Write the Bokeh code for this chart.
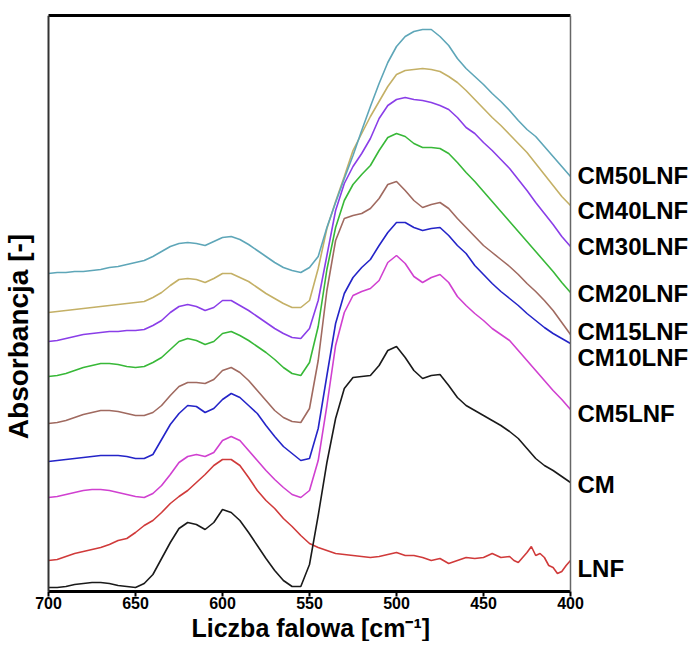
import math
from bokeh.plotting import figure
from bokeh.models import Range1d, FixedTicker, LinearAxis, Label, Span, Title
from bokeh.embed import file_html
from bokeh.resources import INLINE

# ---------------- data (absorbance, arbitrary units, offset spectra) ----------------
wavenumber = [700, 695, 690, 685, 680, 675, 670, 665, 660, 655,
              650, 645, 640, 635, 630, 625, 620, 615, 610, 605,
              600, 595, 590, 585, 580, 575, 570, 565, 560, 555,
              550, 545, 540, 535, 530, 525, 520, 515, 510, 505,
              500, 495, 490, 485, 480, 475, 470, 465, 460, 455,
              450, 445, 440, 435, 430, 425, 420, 415, 410, 405, 400]

wavenumber_lnf = [700, 695, 690, 685, 680, 675, 670, 665, 660, 655,
                  650, 645, 640, 635, 630, 625, 620, 615, 610, 605,
                  600, 595, 590, 585, 580, 575, 570, 565, 560, 555,
                  550, 545, 540, 535, 530, 525, 520, 515, 510, 505,
                  500, 495, 490, 485, 480, 475, 470, 465, 460, 455,
                  450, 445, 440, 435, 432.5, 430, 427.5, 425, 422.5, 420,
                  417.5, 415, 412.5, 410, 407.5, 405, 402.5, 400]

lnf = [0.31, 0.32, 0.35, 0.38, 0.40, 0.42, 0.44, 0.47, 0.51, 0.53,
       0.59, 0.66, 0.71, 0.79, 0.88, 0.95, 1.01, 1.09, 1.17, 1.26,
       1.32, 1.32, 1.26, 1.14, 1.01, 0.91, 0.83, 0.73, 0.65, 0.56,
       0.48, 0.44, 0.41, 0.38, 0.37, 0.36, 0.35, 0.34, 0.35, 0.37,
       0.39, 0.36, 0.36, 0.34, 0.31, 0.33, 0.28, 0.31, 0.34, 0.33,
       0.34, 0.38, 0.34, 0.35, 0.31, 0.29, 0.34, 0.39, 0.45, 0.36,
       0.38, 0.34, 0.26, 0.24, 0.18, 0.20, 0.26, 0.31]

cm = [0.04, 0.04, 0.05, 0.07, 0.08, 0.09, 0.09, 0.08, 0.06, 0.05,
      0.04, 0.08, 0.17, 0.33, 0.49, 0.63, 0.69, 0.67, 0.62, 0.69,
      0.82, 0.79, 0.71, 0.59, 0.46, 0.33, 0.21, 0.11, 0.05, 0.05,
      0.27, 0.76, 1.29, 1.73, 2.03, 2.14, 2.15, 2.16, 2.26, 2.41,
      2.45, 2.34, 2.21, 2.13, 2.16, 2.17, 2.06, 1.94, 1.86, 1.81,
      1.76, 1.71, 1.66, 1.60, 1.53, 1.43, 1.33, 1.26, 1.21, 1.15, 1.09]

cm5lnf = [0.94, 0.95, 0.97, 0.99, 1.01, 1.02, 1.02, 1.01, 0.99, 0.97,
          0.95, 0.94, 0.98, 1.06, 1.17, 1.29, 1.35, 1.37, 1.35, 1.39,
          1.51, 1.55, 1.51, 1.41, 1.31, 1.21, 1.12, 1.04, 0.97, 0.94,
          1.01, 1.31, 1.86, 2.46, 2.79, 2.96, 3.00, 3.03, 3.11, 3.29,
          3.36, 3.28, 3.15, 3.09, 3.14, 3.17, 3.09, 2.95, 2.86, 2.78,
          2.71, 2.63, 2.57, 2.51, 2.41, 2.31, 2.21, 2.11, 2.01, 1.92, 1.82]

cm10lnf = [1.30, 1.31, 1.32, 1.33, 1.34, 1.35, 1.36, 1.36, 1.36, 1.35,
           1.33, 1.33, 1.37, 1.52, 1.67, 1.78, 1.86, 1.85, 1.79, 1.83,
           1.92, 1.98, 1.94, 1.86, 1.78, 1.66, 1.55, 1.45, 1.38, 1.31,
           1.33, 1.63, 2.16, 2.68, 2.98, 3.14, 3.24, 3.32, 3.46, 3.59,
           3.69, 3.69, 3.64, 3.61, 3.63, 3.64, 3.56, 3.46, 3.38, 3.26,
           3.17, 3.08, 3.00, 2.93, 2.86, 2.78, 2.71, 2.64, 2.58, 2.53, 2.48]

cm15lnf = [1.68, 1.69, 1.71, 1.74, 1.77, 1.79, 1.81, 1.81, 1.80, 1.78,
           1.76, 1.76, 1.79, 1.86, 1.96, 2.05, 2.09, 2.09, 2.08, 2.12,
           2.21, 2.24, 2.19, 2.11, 2.01, 1.91, 1.81, 1.74, 1.70, 1.69,
           1.83, 2.31, 3.01, 3.51, 3.73, 3.76, 3.78, 3.83, 3.93, 4.07,
           4.10, 4.01, 3.91, 3.84, 3.87, 3.89, 3.83, 3.73, 3.64, 3.55,
           3.46, 3.39, 3.32, 3.25, 3.17, 3.08, 3.00, 2.91, 2.81, 2.69, 2.57]

cm20lnf = [2.15, 2.16, 2.18, 2.21, 2.24, 2.26, 2.28, 2.28, 2.27, 2.25,
           2.24, 2.25, 2.29, 2.34, 2.42, 2.50, 2.53, 2.51, 2.47, 2.50,
           2.58, 2.60, 2.56, 2.51, 2.45, 2.39, 2.32, 2.24, 2.18, 2.16,
           2.29, 2.65, 3.22, 3.64, 3.91, 4.07, 4.17, 4.26, 4.41, 4.54,
           4.58, 4.55, 4.48, 4.44, 4.44, 4.43, 4.38, 4.29, 4.19, 4.10,
           4.00, 3.90, 3.80, 3.70, 3.60, 3.50, 3.40, 3.30, 3.20, 3.09, 2.99]

cm30lnf = [2.50, 2.51, 2.53, 2.55, 2.57, 2.58, 2.59, 2.60, 2.60, 2.61,
           2.61, 2.62, 2.66, 2.71, 2.79, 2.85, 2.87, 2.85, 2.81, 2.84,
           2.91, 2.91, 2.86, 2.81, 2.75, 2.69, 2.63, 2.58, 2.54, 2.53,
           2.63, 2.91, 3.36, 3.81, 4.08, 4.25, 4.38, 4.53, 4.73, 4.86,
           4.92, 4.94, 4.92, 4.91, 4.89, 4.86, 4.82, 4.74, 4.64, 4.58,
           4.49, 4.41, 4.32, 4.23, 4.12, 4.01, 3.89, 3.78, 3.67, 3.55, 3.45]

cm40lnf = [2.79, 2.80, 2.81, 2.82, 2.83, 2.84, 2.85, 2.86, 2.87, 2.88,
           2.89, 2.90, 2.94, 2.99, 3.06, 3.12, 3.13, 3.12, 3.09, 3.13,
           3.18, 3.18, 3.14, 3.10, 3.04, 2.98, 2.93, 2.88, 2.84, 2.84,
           2.91, 3.23, 3.63, 3.90, 4.15, 4.41, 4.58, 4.75, 4.90, 5.05,
           5.17, 5.21, 5.22, 5.23, 5.22, 5.20, 5.15, 5.09, 5.01, 4.92,
           4.83, 4.74, 4.66, 4.57, 4.48, 4.39, 4.28, 4.17, 4.06, 3.95, 3.86]

cm50lnf = [3.18, 3.19, 3.19, 3.20, 3.20, 3.21, 3.22, 3.24, 3.25, 3.27,
           3.29, 3.31, 3.35, 3.40, 3.45, 3.48, 3.49, 3.48, 3.46, 3.50,
           3.54, 3.55, 3.52, 3.47, 3.41, 3.35, 3.29, 3.24, 3.21, 3.19,
           3.24, 3.35, 3.64, 3.89, 4.13, 4.36, 4.61, 4.85, 5.08, 5.29,
           5.45, 5.55, 5.60, 5.62, 5.62, 5.55, 5.46, 5.33, 5.23, 5.15,
           5.07, 4.98, 4.90, 4.81, 4.71, 4.62, 4.55, 4.45, 4.35, 4.25, 4.15]

series_names = ["LNF", "CM", "CM5LNF", "CM10LNF", "CM15LNF",
                "CM20LNF", "CM30LNF", "CM40LNF", "CM50LNF"]
series_values = [lnf, cm, cm5lnf, cm10lnf, cm15lnf,
                 cm20lnf, cm30lnf, cm40lnf, cm50lnf]
series_x = [wavenumber_lnf] + [wavenumber] * 8
series_colors = ["#d03a3a", "#1a1a1a", "#d040d0", "#2424c8", "#a06a60",
                 "#38b838", "#8a3ee8", "#c4b066", "#5ea6b8"]
label_y = [0.23, 1.07, 1.78, 2.34, 2.60, 2.98, 3.45, 3.81, 4.16]

x_ticks = [700, 650, 600, 550, 500, 450, 400]
x_min, x_max = 400, 700
y_min, y_max = 0, 5.76

FONT = "Liberation Sans"

# frame spans the whole width so the side texts can live inside it
p = figure(frame_width=690, frame_height=576,
           x_range=Range1d(727.59, 331.03), y_range=Range1d(y_min, y_max),
           output_backend="svg", toolbar_location=None,
           y_axis_location=None,
           min_border_left=0, min_border_right=0,
           min_border_top=15, min_border_bottom=20)

p.background_fill_color = "white"
p.border_fill_color = "white"
p.xgrid.visible = False
p.ygrid.visible = False
p.outline_line_color = None

for xs, ys, col in zip(series_x, series_values, series_colors):
    p.line(xs, ys, line_color=col, line_width=1.6)

# bottom axis
xa = p.xaxis[0]
xa.bounds = (x_min, x_max)
xa.ticker = FixedTicker(ticks=x_ticks)
xa.axis_line_width = 3
xa.axis_line_color = "black"
xa.major_tick_in = 0
xa.major_tick_out = 5
xa.major_tick_line_width = 2
xa.minor_tick_line_color = None
xa.major_label_text_font = FONT
xa.major_label_text_font_style = "bold"
xa.major_label_text_font_size = "16px"
xa.major_label_text_color = "black"
xa.major_label_standoff = 0

# x-axis title, placed under the tick labels and centred on the data box
p.add_layout(Title(text="Liczba falowa [cm\u207b\u00b9]", align="left", offset=191,
                   standoff=0, text_font=FONT, text_font_style="bold",
                   text_font_size="25px", text_color="black"), "below")

# top border as a bare axis
top = LinearAxis(ticker=FixedTicker(ticks=[]), bounds=(x_min, x_max),
                 axis_line_width=3, axis_line_color="black",
                 major_tick_line_color=None, minor_tick_line_color=None,
                 major_label_text_font_size="0px")
p.add_layout(top, "above")

# left and right borders of the plotting box
p.add_layout(Span(location=x_max, dimension="height", line_color="#333333", line_width=2))
p.add_layout(Span(location=x_min, dimension="height", line_color="#666666", line_width=1.5))

# y-axis title
p.add_layout(Label(x=717.2, y=2.55, text="Absorbancja [-]", angle=math.pi / 2,
                   text_font=FONT, text_font_style="bold", text_font_size="28px",
                   text_color="black", text_align="center", text_baseline="middle"))

# series names at the right
for name, ly in zip(series_names, label_y):
    p.add_layout(Label(x=396, y=ly, text=name, text_font=FONT,
                       text_font_style="bold", text_font_size="24px",
                       text_color="black", text_baseline="middle",
                       text_align="left"))

open("out.html", "w").write(file_html(p, INLINE))
